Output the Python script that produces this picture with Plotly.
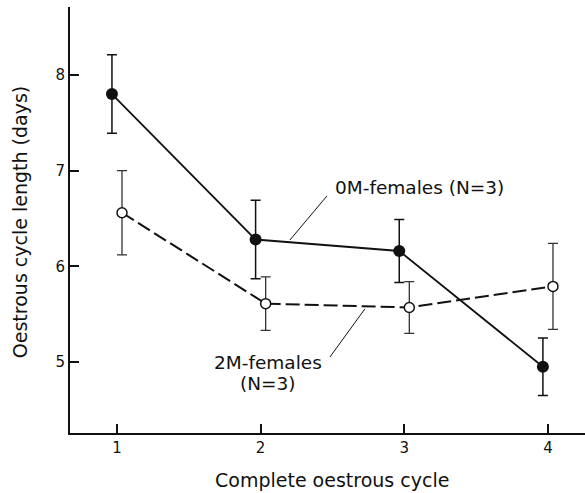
import plotly.graph_objects as go

# ---- data ----
cycles = [1, 2, 3, 4]
om_mean = [7.80, 6.28, 6.16, 4.95]
om_err = [0.41, 0.41, 0.33, 0.30]
tm_mean = [6.56, 5.61, 5.57, 5.79]
tm_err = [0.44, 0.28, 0.27, 0.45]
x_ticks = [1, 2, 3, 4]
y_ticks = [5, 6, 7, 8]

FONT = "DejaVu Sans"
INK = "#111111"
offset = 0.035

fig = go.Figure()

fig.add_trace(go.Scatter(
    x=[c + offset for c in cycles], y=tm_mean,
    mode="lines+markers",
    line=dict(color=INK, width=2, dash="14px,5px"),
    marker=dict(symbol="circle", size=10, color="white", line=dict(color=INK, width=1.5)),
    error_y=dict(type="data", array=tm_err, visible=True, color="#333333", thickness=1.3, width=5),
    showlegend=False,
))

fig.add_trace(go.Scatter(
    x=[c - offset for c in cycles], y=om_mean,
    mode="lines+markers",
    line=dict(color=INK, width=1.8),
    marker=dict(symbol="circle", size=12, color=INK),
    error_y=dict(type="data", array=om_err, visible=True, color=INK, thickness=1.5, width=5),
    showlegend=False,
))

# leader lines
fig.add_shape(type="line", x0=2.462, y0=6.736, x1=2.204, y1=6.275, line=dict(color=INK, width=1))
fig.add_shape(type="line", x0=2.483, y0=5.053, x1=2.726, y1=5.555, line=dict(color=INK, width=1))

ann_font = dict(family=FONT, size=18.5, color=INK)
fig.add_annotation(x=2.503, y=6.82, xref="x", yref="y", text="0M-females (N=3)",
                   showarrow=False, xanchor="left", yanchor="middle", font=ann_font)
fig.add_annotation(x=2.048, y=5.00, xref="x", yref="y", text="2M-females",
                   showarrow=False, xanchor="center", yanchor="middle", font=ann_font)
fig.add_annotation(x=2.054, y=4.78, xref="x", yref="y", text="(N=3)",
                   showarrow=False, xanchor="center", yanchor="middle", font=ann_font)

# axis titles
title_font = dict(family=FONT, size=19, color=INK)
fig.add_annotation(x=0.509, y=-0.110, xref="paper", yref="paper", text="Complete oestrous cycle",
                   showarrow=False, xanchor="center", yanchor="middle", font=title_font)
fig.add_annotation(x=-0.097, y=0.495, xref="paper", yref="paper", text="Oestrous cycle length (days)",
                   showarrow=False, xanchor="center", yanchor="middle", textangle=-90, font=title_font)

axis_common = dict(showgrid=False, zeroline=False, showline=True, linewidth=2, linecolor=INK,
                   ticks="inside", ticklen=9, tickwidth=2, tickcolor=INK,
                   tickfont=dict(family=FONT, size=15, color=INK))

fig.update_xaxes(range=[0.673, 4.258], tickvals=x_ticks, ticktext=[str(v) for v in x_ticks], **axis_common)
fig.update_yaxes(range=[4.258, 8.71], tickvals=y_ticks, ticktext=[str(v) for v in y_ticks], **axis_common)

fig.update_layout(
    width=585, height=493,
    margin=dict(l=70, r=0, t=7, b=60),
    paper_bgcolor="white", plot_bgcolor="white",
)

fig.write_html("out.html")
